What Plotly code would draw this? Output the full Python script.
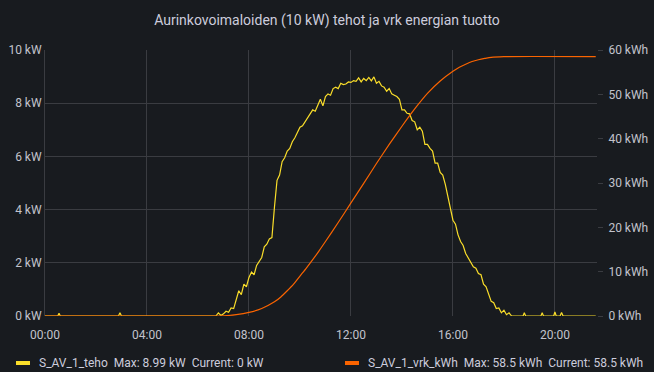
import pandas as pd
import plotly.graph_objects as go

# ---------------- data ----------------
base_day = "2023-06-15"
title_text = "Aurinkovoimaloiden (10 kW) tehot ja vrk energian tuotto"
power_name = "S_AV_1_teho"
energy_name = "S_AV_1_vrk_kWh"

power_hours = [0.0, 0.50, 0.55, 0.60, 2.88, 2.94, 3.00, 6.6,
               6.7, 6.8, 6.9, 7.0, 7.1, 7.2, 7.3, 7.4, 7.5, 7.6, 7.7, 7.8, 7.9,
               8.0, 8.1, 8.2, 8.3, 8.4, 8.5, 8.6, 8.7, 8.8, 8.9,
               9.0, 9.1, 9.2, 9.3, 9.4, 9.5, 9.6, 9.7, 9.8, 9.9,
               10.0, 10.1, 10.2, 10.3, 10.4, 10.5, 10.6, 10.7, 10.8, 10.9,
               11.0, 11.1, 11.2, 11.3, 11.4, 11.5, 11.6, 11.7, 11.8, 11.9,
               12.0, 12.1, 12.2, 12.3, 12.4, 12.5, 12.6, 12.7, 12.8, 12.9,
               13.0, 13.1, 13.2, 13.3, 13.4, 13.5, 13.6, 13.7, 13.8, 13.9,
               14.0, 14.1, 14.2, 14.3, 14.4, 14.5, 14.6, 14.7, 14.8, 14.9,
               15.0, 15.1, 15.2, 15.3, 15.4, 15.5, 15.6, 15.7, 15.8, 15.9,
               16.0, 16.1, 16.2, 16.3, 16.4, 16.5, 16.6, 16.7, 16.8, 16.9,
               17.0, 17.1, 17.2, 17.3, 17.4, 17.5, 17.6, 17.7, 17.8, 17.9,
               18.0, 18.1, 18.2, 18.3, 18.4,
               18.75, 18.8, 18.85, 19.45, 19.5, 19.55, 19.95, 20.0, 20.05,
               20.2, 20.26, 20.32, 21.6]
power_kw = [0.0, 0.0, 0.1, 0.0, 0.0, 0.12, 0.0, 0.0,
            0.0, 0.12, 0.02, 0.08, 0.18, 0.14, 0.30, 0.28, 0.60, 0.95, 0.80, 1.20, 1.10,
            1.45, 1.65, 1.55, 1.90, 2.05, 2.20, 2.60, 2.70, 2.90, 2.95,
            4.10, 5.10, 5.30, 5.80, 5.95, 6.20, 6.30, 6.55, 6.70, 6.90,
            7.10, 7.15, 7.30, 7.45, 7.55, 7.75, 7.70, 7.95, 8.15, 7.90,
            8.25, 8.35, 8.30, 8.55, 8.60, 8.55, 8.75, 8.70, 8.72, 8.80,
            8.78, 8.85, 8.82, 8.95, 8.80, 8.93, 8.85, 8.97, 8.84, 8.99,
            8.75, 8.82, 8.65, 8.60, 8.45, 8.55, 8.35, 8.30, 8.25, 8.15,
            7.75, 7.75, 7.62, 7.60, 7.35, 7.30, 7.00, 7.10, 6.95, 6.45,
            6.45, 6.30, 6.20, 5.75, 5.75, 5.40, 5.30, 4.95, 4.50, 4.00,
            3.60, 3.45, 3.05, 2.80, 2.65, 2.35, 2.20, 2.05, 1.85, 1.80,
            1.60, 1.55, 1.20, 1.10, 0.80, 0.55, 0.50, 0.28, 0.30, 0.12,
            0.22, 0.05, 0.12, 0.0, 0.0,
            0.0, 0.12, 0.0, 0.0, 0.12, 0.0, 0.0, 0.15, 0.0,
            0.0, 0.13, 0.0, 0.0]

energy_hours = [0.0, 6.5, 7.0, 7.5, 8.0, 8.5, 9.0, 9.25, 9.5, 9.75, 10.0, 10.25,
                10.5, 10.75, 11.0, 11.5, 12.0, 12.5, 13.0, 13.5, 14.0, 14.5,
                15.0, 15.5, 16.0, 16.25, 16.5, 16.75, 17.0, 17.25, 17.5, 18.0, 21.6]
energy_kwh = [0.0, 0.0, 0.05, 0.3, 0.8, 1.7, 3.2, 4.3, 5.7, 7.2, 9.0, 10.8,
              12.7, 14.7, 16.8, 21.1, 25.5, 29.9, 34.4, 38.7, 42.8, 46.7,
              50.2, 53.0, 55.2, 56.1, 56.8, 57.4, 57.8, 58.1, 58.35, 58.5, 58.5]

x_range_hours = [0.0, 21.65]
kw_ticks = [0, 2, 4, 6, 8, 10]
kwh_ticks = [0, 10, 20, 30, 40, 50, 60]

# ---------------- styling ----------------
BG = "#181b1f"
GRID = "#3a3c41"
TEXT = "#ccccdc"
TICK = "#c2c3cc"
YELLOW = "#fade2a"
ORANGE = "#fa6400"
FONT = "Roboto"

day0 = pd.Timestamp(base_day)
to_t = lambda hs: [day0 + pd.to_timedelta(h, unit="h") for h in hs]

fig = go.Figure()
fig.add_trace(go.Scatter(x=to_t(power_hours), y=power_kw, mode="lines",
                         line=dict(color=YELLOW, width=1.2), name=power_name,
                         yaxis="y", showlegend=False))
fig.add_trace(go.Scatter(x=to_t(energy_hours), y=energy_kwh, mode="lines",
                         line=dict(color=ORANGE, width=1.2, shape="spline", smoothing=0.6),
                         name=energy_name, yaxis="y2", showlegend=False))

W, H = 654, 372
L, R, T, B = 45, 57, 50, 56
pw, ph = W - L - R, H - T - B

def px(x):
    return (x - L) / pw

def py(y):
    return (H - B - y) / ph

ly = 363
# legend bars
fig.add_shape(type="rect", xref="paper", yref="paper", x0=px(16), x1=px(30),
              y0=py(ly + 2), y1=py(ly - 2), fillcolor=YELLOW, line=dict(width=0))
fig.add_shape(type="rect", xref="paper", yref="paper", x0=px(345), x1=px(359),
              y0=py(ly + 2), y1=py(ly - 2), fillcolor=ORANGE, line=dict(width=0))

nb = "\u00a0"
def fmt(v):
    return f"{v:g}"
leg1 = f"{power_name}{nb*2}Max: {fmt(max(power_kw))} kW{nb*2}Current: {fmt(power_kw[-1])} kW"
leg2 = f"{energy_name}{nb*2}Max: {fmt(max(energy_kwh))} kWh{nb*2}Current: {fmt(energy_kwh[-1])} kWh"
fig.add_annotation(text=leg1, xref="paper", yref="paper", x=px(37), y=py(ly),
                   xanchor="left", yanchor="middle", showarrow=False,
                   font=dict(family=FONT, size=12, color=TEXT))
fig.add_annotation(text=leg2, xref="paper", yref="paper", x=px(366), y=py(ly),
                   xanchor="left", yanchor="middle", showarrow=False,
                   font=dict(family=FONT, size=12, color=TEXT))

fig.update_layout(
    width=W, height=H,
    margin=dict(l=L, r=R, t=T, b=B, autoexpand=False),
    paper_bgcolor=BG, plot_bgcolor=BG,
    title=dict(text=title_text, x=0.5, xref="container", xanchor="center",
               y=1 - 20 / H, yref="container", yanchor="middle",
               font=dict(family=FONT, size=14, color=TEXT)),
    xaxis=dict(type="date", range=to_t(x_range_hours), tickformat="%H:%M",
               dtick=4 * 3600 * 1000, tick0=day0, showgrid=True, gridcolor=GRID,
               gridwidth=1, zeroline=False, showline=False, ticks="",
               ticklabelstandoff=10,
               tickfont=dict(family=FONT, size=12, color=TICK)),
    yaxis=dict(range=[0, 10], tickvals=kw_ticks, ticktext=[f"{v} kW" for v in kw_ticks],
               showgrid=True, gridcolor=GRID, gridwidth=1, zeroline=False,
               showline=True, linecolor=GRID, linewidth=1, ticks="",
               tickfont=dict(family=FONT, size=12, color=TICK)),
    yaxis2=dict(range=[0, 60], tickvals=kwh_ticks, ticktext=[f"{v} kWh" for v in kwh_ticks],
                overlaying="y", side="right", showgrid=False, zeroline=False,
                showline=False, ticks="outside", ticklen=5, tickcolor=GRID,
                ticklabelstandoff=3,
                tickfont=dict(family=FONT, size=12, color=TICK)),
    font=dict(family=FONT, color=TEXT),
)

fig.write_html("out.html", config={"displayModeBar": False},
               post_script="document.body.style.margin='0';document.body.style.overflow='hidden';")
